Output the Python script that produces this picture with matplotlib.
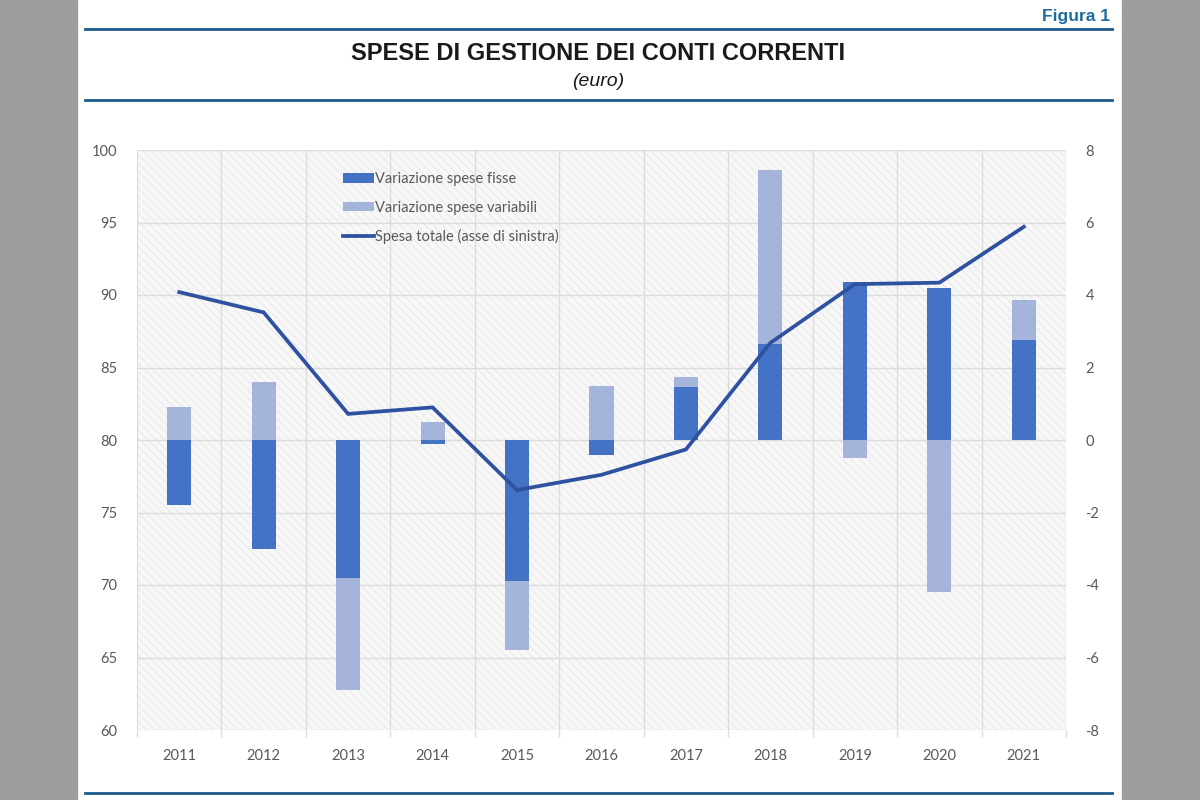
import matplotlib
matplotlib.use("Agg")
import matplotlib.pyplot as plt
import numpy as np
from matplotlib.patches import Rectangle
from matplotlib.lines import Line2D

years = ["2011", "2012", "2013", "2014", "2015", "2016", "2017", "2018", "2019", "2020", "2021"]
var_fisse = [-1.8, -3.0, -3.8, -0.1, -3.9, -0.4, 1.45, 2.65, 4.35, 4.2, 2.75]
var_variabili = [0.9, 1.6, -3.1, 0.5, -1.9, 1.5, 0.3, 4.8, -0.5, -4.2, 1.1]
spesa_totale = [90.2, 88.8, 81.8, 82.25, 76.55, 77.6, 79.35, 86.7, 90.75, 90.85, 94.7]

left_ticks = [60, 65, 70, 75, 80, 85, 90, 95, 100]
right_ticks = [-8, -6, -4, -2, 0, 2, 4, 6, 8]

title = "SPESE DI GESTIONE DEI CONTI CORRENTI"
subtitle = "(euro)"
fig_label = "Figura 1"
legend_labels = ["Variazione spese fisse", "Variazione spese variabili", "Spesa totale (asse di sinistra)"]

C_DARK = "#4472c4"
C_LIGHT = "#a4b4da"
C_LINE = "#2f52a0"
C_RULE = "#1d5a87"
C_TICK = "#595959"

plt.rcParams['font.family'] = ['Lato', 'DejaVu Sans']
plt.rcParams['hatch.linewidth'] = 0.5

fig = plt.figure(figsize=(12, 8), dpi=100)
fig.patch.set_facecolor("white")

# grey side bands
fig.patches.append(Rectangle((0, 0), 77/1200, 1, transform=fig.transFigure, color="#9d9d9d", zorder=0))
fig.patches.append(Rectangle((1122/1200, 0), 78/1200, 1, transform=fig.transFigure, color="#9d9d9d", zorder=0))

# horizontal rules
for ypx in (29, 100, 793):
    fig.add_artist(Line2D([85/1200, 1112/1200], [1 - ypx/800, 1 - ypx/800], transform=fig.transFigure,
                          color=C_RULE, lw=2.0))

head_font = ['Liberation Sans', 'DejaVu Sans']
fig.text(1110/1200, 1 - 17/800, fig_label, ha="right", va="center", fontsize=12.5, fontweight="bold",
         color="#1f6a9e", family=head_font)
fig.text(598/1200, 1 - 53/800, title, ha="center", va="center", fontsize=17, fontweight="bold",
         color="#1a1a1a", family=head_font)
fig.text(598/1200, 1 - 82/800, subtitle, ha="center", va="center", fontsize=14, style="italic",
         color="#1a1a1a", family=head_font)

ax = fig.add_axes([137/1200, 1 - 730/800, 929/1200, 580/800])
x = np.arange(len(years))
n = len(years)

ax.set_xlim(-0.5, n - 0.5)
ax.set_ylim(-8, 8)

# hatched background
bg = Rectangle((0, 0), 1, 1, transform=ax.transAxes, facecolor="#f7f7f7", edgecolor="#e3e3e3",
               hatch="\\\\\\\\", lw=0, zorder=0)
ax.add_patch(bg)
ax.set_facecolor("none")

fisse = np.array(var_fisse)
varb = np.array(var_variabili)
bottom_var = np.where(np.sign(varb) == np.sign(fisse), fisse, 0.0)

w = 0.285
ax.bar(x, fisse, width=w, color=C_DARK, zorder=3, label=legend_labels[0])
ax.bar(x, varb, width=w, bottom=bottom_var, color=C_LIGHT, zorder=3, label=legend_labels[1])

# grids
for yv in right_ticks:
    ax.axhline(yv, color="#dcdcdc", lw=1.0, zorder=1)
ax.set_xticks(x)
ax.set_xticklabels(years)
ax.set_xticks(np.arange(-0.5, n, 1.0), minor=True)
ax.grid(axis="x", which="minor", color="#dcdcdc", lw=1.0, zorder=1)
ax.tick_params(axis="x", which="major", length=0, pad=14, labelsize=10.5, labelcolor=C_TICK)
ax.tick_params(axis="x", which="minor", length=5, color="#dcdcdc", width=1.0)
for s in ax.spines.values():
    s.set_visible(False)

ax2 = ax.twinx()
ax2.set_ylim(60, 100)
ax2.set_xlim(-0.5, n - 0.5)
for s in ax2.spines.values():
    s.set_visible(False)

# right axis (bars) on ax, left axis (line) on ax2 -- set after twinx
ax.yaxis.tick_right()
ax.yaxis.set_label_position("right")
ax.set_yticks(right_ticks)
ax.set_yticklabels([str(v) for v in right_ticks])
ax.tick_params(axis="y", length=0, pad=14, labelsize=10.5, labelcolor=C_TICK)

ax2.yaxis.tick_left()
ax2.yaxis.set_label_position("left")
ax2.set_yticks(left_ticks)
ax2.set_yticklabels([str(v) for v in left_ticks])
ax2.tick_params(axis="y", length=0, pad=14, labelsize=10.5, labelcolor=C_TICK)

ax2.plot(x, spesa_totale, color=C_LINE, lw=2.7, solid_joinstyle="miter", label=legend_labels[2], zorder=4)

h1, l1 = ax.get_legend_handles_labels()
h2, l2 = ax2.get_legend_handles_labels()
leg = ax2.legend(h1 + h2, l1 + l2, loc="upper left", bbox_to_anchor=(0.2155, 0.972), frameon=False,
                 fontsize=10.5, handlelength=2.1, handletextpad=0.1, labelspacing=1.0,
                 handleheight=0.6, borderaxespad=0)
for t in leg.get_texts():
    t.set_color(C_TICK)

fig.savefig("out.png", dpi=100)
